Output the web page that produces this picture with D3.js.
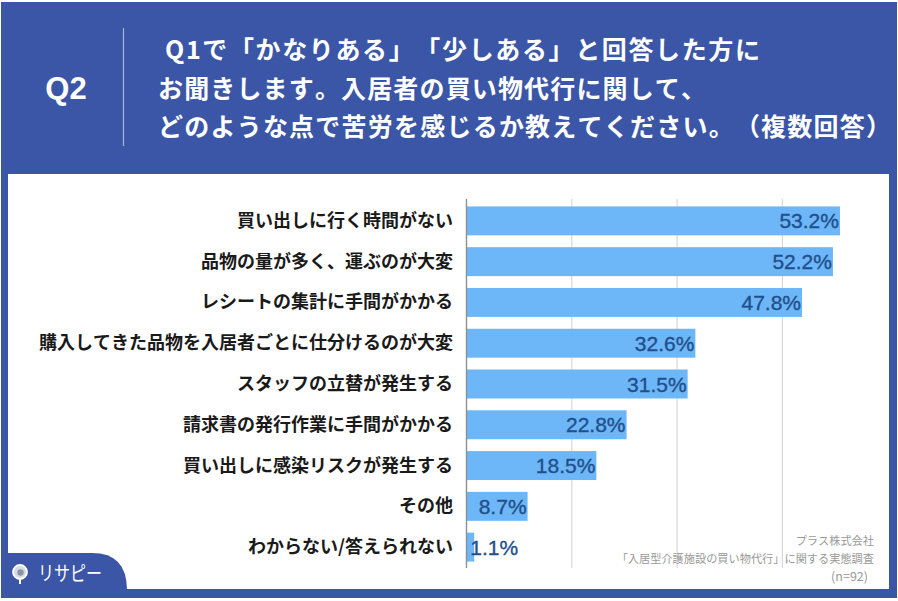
<!DOCTYPE html>
<html>
<head>
<meta charset="utf-8">
<script src="https://cdn.jsdelivr.net/npm/d3@7"></script>
<style>
  html, body { margin: 0; padding: 0; background: #fff; }
  text { font-family: "Noto Sans CJK JP", "Noto Sans", sans-serif; text-spacing-trim: space-all; font-kerning: none; }
  .latin { font-family: "Liberation Sans", Arial, sans-serif; font-kerning: auto; }
</style>
</head>
<body>
<div id="chart"></div>
<script>
// data
var categories = [
    "買い出しに行く時間がない",
    "品物の量が多く、運ぶのが大変",
    "レシートの集計に手間がかかる",
    "購入してきた品物を入居者ごとに仕分けるのが大変",
    "スタッフの立替が発生する",
    "請求書の発行作業に手間がかかる",
    "買い出しに感染リスクが発生する",
    "その他",
    "わからない/答えられない"
];
var values = [53.2, 52.2, 47.8, 32.6, 31.5, 22.8, 18.5, 8.7, 1.1];
var gridTicks = [15, 30, 45];
var titleLines = [
    "Q1で「かなりある」「少しある」と回答した方に",
    "お聞きします。入居者の買い物代行に関して、",
    "どのような点で苦労を感じるか教えてください。（複数回答）"
];
var sourceLines = ["プラス株式会社", "「入居型介護施設の買い物代行」に関する実態調査", "(n=92)"];

var svgWidth = 898;
var svgHeight = 601;
var blue = "#3b56a6";

var svg = d3.select("#chart").append("svg")
    .attr("width", svgWidth)
    .attr("height", svgHeight)
    .style("display", "block");

// BACKGROUND
svg.append("rect")
    .attr("x", 1).attr("y", 2)
    .attr("width", svgWidth - 2).attr("height", svgHeight - 5)
    .attr("fill", blue);

svg.append("rect")
    .attr("x", 8).attr("y", 174)
    .attr("width", 881).attr("height", 415)
    .attr("fill", "#fff");

// HEADER
svg.append("text")
    .attr("class", "latin")
    .attr("x", 66).attr("y", 99)
    .attr("text-anchor", "middle")
    .attr("fill", "#fff")
    .attr("font-size", 31)
    .attr("font-weight", 700)
    .text("Q2");

svg.append("line")
    .attr("x1", 123.5).attr("x2", 123.5)
    .attr("y1", 28).attr("y2", 146)
    .attr("stroke", "#a9b5d8")
    .attr("stroke-width", 1.2);

var titleX = [165, 158, 158];
var titleWidth = [595, 548, 733];
svg.selectAll(".title")
    .data(titleLines)
    .enter()
    .append("text")
    .attr("class", "title")
    .attr("x", (d, i) => titleX[i])
    .attr("y", (d, i) => 59 + i * 38.5)
    .attr("fill", "#fff")
    .attr("font-size", 25)
    .attr("font-weight", 700)
    .attr("textLength", (d, i) => titleWidth[i])
    .attr("lengthAdjust", "spacing")
    .text(d => d);

// SCALES
var x = d3.scaleLinear().domain([0, 60]).range([466.5, 466.5 + 7.02 * 60]);
var y = d3.scaleBand()
    .domain(categories)
    .range([200.5, 567.5])
    .paddingInner(0.29)
    .paddingOuter(0.145);

// GRIDLINES
svg.selectAll(".grid")
    .data(gridTicks)
    .enter()
    .append("line")
    .attr("class", "grid")
    .attr("x1", d => x(d)).attr("x2", d => x(d))
    .attr("y1", 199).attr("y2", 568)
    .attr("stroke", "#d9d9d9")
    .attr("stroke-width", 1.2);

// BARS
svg.selectAll(".bar")
    .data(values)
    .enter()
    .append("rect")
    .attr("class", "bar")
    .attr("x", x(0))
    .attr("y", (d, i) => y(categories[i]))
    .attr("width", d => x(d) - x(0))
    .attr("height", y.bandwidth())
    .attr("fill", "#6db6f7");

// axis line
svg.append("line")
    .attr("x1", x(0)).attr("x2", x(0))
    .attr("y1", 199).attr("y2", 568)
    .attr("stroke", "#8a8f98")
    .attr("stroke-width", 1.4);

// CATEGORY LABELS
svg.selectAll(".cat")
    .data(categories)
    .enter()
    .append("text")
    .attr("class", "cat")
    .attr("x", 453)
    .attr("y", d => y(d) + y.bandwidth() / 2 + 6)
    .attr("text-anchor", "end")
    .attr("fill", "#1a1a1a")
    .attr("font-size", 18)
    .attr("font-weight", 700)
    .text(d => d);

// VALUE LABELS
svg.selectAll(".val")
    .data(values)
    .enter()
    .append("text")
    .attr("class", "val latin")
    .attr("x", d => d < 5 ? x(d) + 44 : x(d) - 1)
    .attr("y", (d, i) => y(categories[i]) + y.bandwidth() / 2 + 7.5)
    .attr("text-anchor", "end")
    .attr("fill", "#1f4f8c")
    .attr("stroke", "#1f4f8c")
    .attr("stroke-width", 0.35)
    .attr("font-size", 21)
    .text(d => d.toFixed(1) + "%");

// SOURCE NOTE
svg.selectAll(".src")
    .data(sourceLines)
    .enter()
    .append("text")
    .attr("class", "src")
    .attr("x", (d, i) => i == 2 ? 868 : 874)
    .attr("y", (d, i) => 545 + i * 18)
    .attr("text-anchor", "end")
    .attr("fill", "#999999")
    .attr("font-size", (d, i) => i == 2 ? 12.5 : 11.2)
    .text(d => d);

// LOGO TAB
svg.append("path")
    .attr("d", "M1,553 H92 Q127,553 127,590 V598 H1 Z")
    .attr("fill", blue);

var logo = svg.append("g").attr("transform", "translate(20,572)");
logo.append("circle").attr("r", 7).attr("fill", "#d5dbe9").attr("stroke", "#fff").attr("stroke-width", 1.8);
logo.append("circle").attr("r", 3.2).attr("cx", 0.5).attr("cy", 0.5).attr("fill", "#8d95a6");
logo.append("line").attr("x1", 0).attr("x2", 0).attr("y1", 7).attr("y2", 12).attr("stroke", "#fff").attr("stroke-width", 2);

svg.append("text")
    .attr("x", 38).attr("y", 581)
    .attr("fill", "#fff")
    .attr("font-size", 20)
    .attr("textLength", 64)
    .attr("lengthAdjust", "spacingAndGlyphs")
    .text("リサピー");
</script>
</body>
</html>
